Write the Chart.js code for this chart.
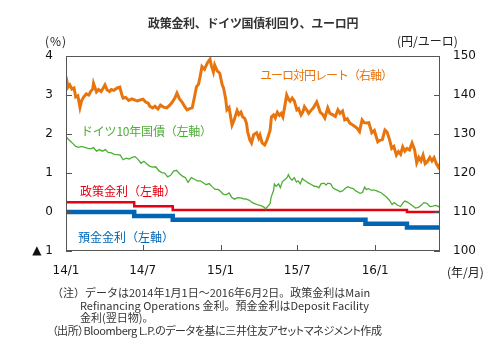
<!DOCTYPE html>
<html lang="ja">
<head>
<meta charset="utf-8">
<title>政策金利、ドイツ国債利回り、ユーロ円</title>
<script src="https://cdn.jsdelivr.net/npm/chart.js@4/dist/chart.umd.min.js"></script>
<style>
  html, body { margin: 0; padding: 0; background: #fff; }
  #wrap { position: relative; width: 504px; height: 343px; overflow: hidden; }
  canvas { position: absolute; left: 0; top: 0; }
  .note { position: absolute; font-family: "Noto Sans CJK JP", sans-serif; font-size: 11px; color: #333;
          white-space: nowrap; line-height: 13px; }
  .note.tight { font-feature-settings: "palt" 1; letter-spacing: -0.4px; }
</style>
</head>
<body>
<div id="wrap">
  <canvas id="c" width="504" height="343"></canvas>
  <div class="note" style="left:52px; top:286px;">（注）データは2014年1月1日～2016年6月2日。政策金利はMain</div>
  <div class="note" style="left:80px; top:299px;">Refinancing Operations 金利。預金金利はDeposit Facility</div>
  <div class="note" style="left:80px; top:311px;">金利(翌日物)。</div>
  <div class="note tight" style="left:52px; top:324px;">（出所）Bloomberg L.P.のデータを基に三井住友アセットマネジメント作成</div>
</div>
<script>
// ユーロ対円レート（右軸, 円/ユーロ）
const euroDates = [
  "2014-01-01","2014-01-06","2014-01-10","2014-01-15","2014-01-20","2014-01-24","2014-01-29","2014-02-03","2014-02-07","2014-02-12",
  "2014-02-18","2014-02-24","2014-02-28","2014-03-05","2014-03-07","2014-03-14","2014-03-19","2014-03-25","2014-03-31","2014-04-03",
  "2014-04-08","2014-04-14","2014-04-18","2014-04-24","2014-05-02","2014-05-08","2014-05-13","2014-05-16","2014-05-22","2014-05-29",
  "2014-06-05","2014-06-10","2014-06-18","2014-06-25","2014-07-02","2014-07-08","2014-07-14","2014-07-18","2014-07-25","2014-07-30",
  "2014-08-06","2014-08-12","2014-08-19","2014-08-27","2014-09-03","2014-09-09","2014-09-15","2014-09-20","2014-09-26","2014-10-02",
  "2014-10-08","2014-10-14","2014-10-20","2014-10-26","2014-10-31","2014-11-05","2014-11-10","2014-11-14","2014-11-18","2014-11-24",
  "2014-12-01","2014-12-07","2014-12-10","2014-12-15","2014-12-18","2014-12-24","2014-12-30","2015-01-05","2015-01-08","2015-01-13",
  "2015-01-16","2015-01-21","2015-01-28","2015-02-02","2015-02-09","2015-02-13","2015-02-18","2015-02-22","2015-02-27","2015-03-03",
  "2015-03-06","2015-03-11","2015-03-15","2015-03-20","2015-03-27","2015-04-01","2015-04-04","2015-04-09","2015-04-15","2015-04-20",
  "2015-04-24","2015-04-28","2015-05-01","2015-05-06","2015-05-10","2015-05-15","2015-05-20","2015-05-24","2015-05-28","2015-06-02",
  "2015-06-06","2015-06-10","2015-06-14","2015-06-19","2015-06-24","2015-06-30","2015-07-04","2015-07-10","2015-07-14","2015-07-18",
  "2015-07-23","2015-07-28","2015-08-02","2015-08-08","2015-08-16","2015-08-20","2015-08-24","2015-08-30","2015-09-04","2015-09-11",
  "2015-09-16","2015-09-23","2015-09-29","2015-10-05","2015-10-10","2015-10-16","2015-10-21","2015-10-27","2015-11-02","2015-11-08",
  "2015-11-13","2015-11-19","2015-11-25","2015-12-01","2015-12-06","2015-12-12","2015-12-17","2015-12-24","2015-12-30","2016-01-07",
  "2016-01-12","2016-01-18","2016-01-24","2016-01-29","2016-02-04","2016-02-09","2016-02-14","2016-02-20","2016-02-25","2016-03-01",
  "2016-03-06","2016-03-11","2016-03-16","2016-03-22","2016-03-28","2016-04-03","2016-04-08","2016-04-13","2016-04-18","2016-04-23",
  "2016-04-28","2016-05-03","2016-05-09","2016-05-14","2016-05-19","2016-05-24","2016-05-29","2016-06-02"
];
const euroYen = [
  144.7,142.0,142.6,141.5,141.8,139.5,139.8,136.8,138.6,139.5,
  140.3,140.0,140.9,141.5,143.0,140.8,141.4,140.9,142.0,142.6,
  141.3,140.9,141.4,141.2,141.8,142.0,140.0,139.2,139.4,138.6,
  139.0,138.8,138.5,138.7,138.9,138.2,137.9,137.1,136.7,137.1,
  136.4,137.4,136.9,136.7,137.4,138.2,139.2,140.5,139.0,138.2,
  137.1,136.2,136.5,136.7,139.3,142.1,142.8,144.9,147.3,146.6,
  148.3,149.2,147.6,145.9,147.7,146.2,145.6,142.5,141.8,139.0,
  136.2,136.8,132.3,133.6,136.0,135.0,135.6,134.4,134.0,132.8,
  130.5,128.5,127.7,129.8,130.3,128.9,129.7,127.7,127.2,128.3,
  129.6,131.0,134.4,134.9,134.1,135.6,134.8,135.3,134.4,137.4,
  140.0,139.0,138.4,139.2,138.5,136.2,136.5,134.9,135.6,137.0,
  136.2,135.3,136.0,136.7,138.2,137.0,135.6,135.0,134.1,136.7,
  135.3,134.9,134.5,136.2,135.3,135.9,133.6,133.9,132.8,132.4,
  132.0,131.5,130.6,133.6,132.9,132.8,132.9,130.3,130.9,128.0,
  128.4,128.6,131.0,130.5,128.5,126.3,126.8,124.6,125.5,124.8,
  126.7,125.6,126.3,125.9,127.7,126.0,122.6,124.0,123.1,124.6,
  122.4,122.9,124.0,123.1,123.9,122.5,121.5,122.3
];

// ドイツ10年国債利回り（左軸, %）
const bundDates = [
  "2014-01-01","2014-01-07","2014-01-13","2014-01-17","2014-01-24","2014-01-31","2014-02-07","2014-02-14","2014-02-21","2014-02-28",
  "2014-03-07","2014-03-14","2014-03-21","2014-03-28","2014-04-04","2014-04-11","2014-04-17","2014-04-25","2014-05-02","2014-05-09",
  "2014-05-16","2014-05-23","2014-05-30","2014-06-06","2014-06-13","2014-06-20","2014-06-27","2014-07-04","2014-07-11","2014-07-18",
  "2014-07-25","2014-08-01","2014-08-08","2014-08-15","2014-08-22","2014-08-29","2014-09-05","2014-09-12","2014-09-19","2014-09-26",
  "2014-10-03","2014-10-10","2014-10-16","2014-10-24","2014-10-31","2014-11-07","2014-11-14","2014-11-21","2014-11-28","2014-12-05",
  "2014-12-12","2014-12-19","2014-12-26","2014-12-31","2015-01-07","2015-01-14","2015-01-21","2015-01-27","2015-02-03","2015-02-10",
  "2015-02-17","2015-02-24","2015-03-03","2015-03-10","2015-03-17","2015-03-24","2015-03-31","2015-04-07","2015-04-14","2015-04-17",
  "2015-04-22","2015-04-28","2015-04-30","2015-05-06","2015-05-08","2015-05-12","2015-05-18","2015-05-22","2015-05-27","2015-06-03",
  "2015-06-08","2015-06-10","2015-06-15","2015-06-19","2015-06-24","2015-06-29","2015-07-03","2015-07-08","2015-07-13","2015-07-17",
  "2015-07-22","2015-07-28","2015-08-04","2015-08-10","2015-08-17","2015-08-21","2015-08-26","2015-09-02","2015-09-07","2015-09-11",
  "2015-09-18","2015-09-23","2015-09-29","2015-10-06","2015-10-09","2015-10-16","2015-10-22","2015-10-28","2015-11-04","2015-11-10",
  "2015-11-16","2015-11-20","2015-11-26","2015-12-02","2015-12-07","2015-12-11","2015-12-17","2015-12-22","2015-12-30","2016-01-05",
  "2016-01-08","2016-01-14","2016-01-20","2016-01-27","2016-02-02","2016-02-05","2016-02-10","2016-02-15","2016-02-22","2016-03-01",
  "2016-03-07","2016-03-11","2016-03-16","2016-03-22","2016-03-29","2016-04-05","2016-04-12","2016-04-19","2016-04-25","2016-05-02",
  "2016-05-09","2016-05-16","2016-05-23","2016-05-30","2016-06-02"
];
const bundYield = [
  1.93,1.86,1.80,1.76,1.68,1.66,1.68,1.66,1.63,1.62,
  1.65,1.56,1.60,1.56,1.60,1.52,1.52,1.48,1.47,1.46,
  1.34,1.38,1.36,1.40,1.42,1.35,1.25,1.30,1.23,1.17,
  1.15,1.16,1.06,1.01,1.00,0.90,0.94,1.05,1.07,0.98,
  0.92,0.88,0.76,0.88,0.84,0.80,0.80,0.75,0.70,0.73,
  0.65,0.58,0.58,0.54,0.46,0.44,0.49,0.38,0.33,0.37,
  0.36,0.34,0.33,0.30,0.24,0.21,0.18,0.16,0.12,0.08,
  0.14,0.22,0.37,0.55,0.72,0.66,0.72,0.62,0.78,0.84,
  0.90,0.96,0.85,0.82,0.88,0.77,0.80,0.72,0.86,0.82,
  0.78,0.74,0.70,0.66,0.65,0.62,0.72,0.74,0.69,0.74,
  0.72,0.62,0.58,0.55,0.52,0.54,0.60,0.65,0.62,0.60,
  0.54,0.52,0.48,0.50,0.64,0.58,0.60,0.56,0.56,0.54,
  0.52,0.50,0.45,0.39,0.32,0.28,0.19,0.24,0.18,0.14,
  0.24,0.28,0.26,0.22,0.16,0.10,0.12,0.18,0.24,0.22,
  0.14,0.15,0.17,0.14,0.10
];

// 政策金利（MRO, 左軸）: 変更日と新しい水準
const mroDates = ["2014-01-01","2014-06-11","2014-09-10","2016-03-16","2016-06-02"];
const mroRate  = [0.25, 0.15, 0.05, 0.00, 0.00];

// 預金金利（Deposit Facility, 左軸）
const depoDates = ["2014-01-01","2014-06-11","2014-09-10","2015-12-09","2016-03-16","2016-06-02"];
const depoRate  = [0.00, -0.10, -0.20, -0.30, -0.40, -0.40];

// 横軸の目盛り
const xTickDates  = ["2014-01-01","2014-07-01","2015-01-01","2015-07-01","2016-01-01"];
const xTickLabels = ["14/1","14/7","15/1","15/7","16/1"];
const xStart = "2014-01-01";
const xEnd   = "2016-06-02";

// 縦軸の目盛り
const leftTicks  = [-1, 0, 1, 2, 3, 4];
const rightTicks = [100, 110, 120, 130, 140, 150];

// 日付を 2014/1/1 からの経過日数に変換
function dayIndex(s) {
  const [y, m, d] = s.split("-").map(Number);
  return (Date.UTC(y, m - 1, d) - Date.UTC(2014, 0, 1)) / 86400000;
}
function toPoints(dates, values) {
  return dates.map((d, i) => ({ x: dayIndex(d), y: values[i] }));
}

const COL_EURO = "#E8740E";
const COL_BUND = "#4DAE35";
const COL_MRO  = "#E60012";
const COL_DEPO = "#0066B3";
const FRAME    = "#555555";
const JP = '"Noto Sans CJK JP", sans-serif';
const NUM = '"DejaVu Sans", sans-serif';

function label(ctx, text, x, y, color, spacing) {
  ctx.fillStyle = color;
  ctx.letterSpacing = spacing || "0px";
  ctx.fillText(text, x, y);
  ctx.letterSpacing = "0px";
}

const decorPlugin = {
  id: "decor",
  afterDatasetsDraw(chart) {
    const { ctx, chartArea: a, scales } = chart;
    ctx.save();
    // 枠線
    ctx.strokeStyle = FRAME;
    ctx.lineWidth = 1;
    ctx.strokeRect(Math.round(a.left) + 0.5, Math.round(a.top) + 0.5,
                   Math.round(a.right - a.left) - 1, Math.round(a.bottom - a.top) - 1);
    // 内向きの目盛り線
    ctx.beginPath();
    leftTicks.forEach(v => {
      const y = Math.round(scales.y.getPixelForValue(v)) + 0.5;
      ctx.moveTo(a.left, y); ctx.lineTo(a.left + 6, y);
    });
    rightTicks.forEach(v => {
      const y = Math.round(scales.y2.getPixelForValue(v)) + 0.5;
      ctx.moveTo(a.right, y); ctx.lineTo(a.right - 6, y);
    });
    xTickDates.forEach(d => {
      const x = Math.round(scales.x.getPixelForValue(dayIndex(d))) + 0.5;
      ctx.moveTo(x, a.bottom); ctx.lineTo(x, a.bottom - 6);
    });
    ctx.stroke();

    // 系列ラベル
    ctx.font = "12px " + JP;
    ctx.textBaseline = "middle";
    ctx.textAlign = "left";
    label(ctx, "ユーロ対円レート（右軸）", 260, 75, COL_EURO, "-1px");
    label(ctx, "ドイツ10年国債（左軸）", 81, 131, COL_BUND, "-0.2px");
    label(ctx, "政策金利（左軸）", 80, 191, COL_MRO);
    label(ctx, "預金金利（左軸）", 78, 237, COL_DEPO);
    ctx.restore();
  },
  afterDraw(chart) {
    const { ctx } = chart;
    ctx.save();
    ctx.textBaseline = "middle";
    ctx.textAlign = "left";
    ctx.font = "bold 12px " + JP;
    label(ctx, "政策金利、ドイツ国債利回り、ユーロ円", 148, 23, "#333", "-0.3px");
    ctx.font = "12px " + JP;
    label(ctx, "(%)", 45, 41, "#222", "1px");
    label(ctx, "(円/ユーロ)", 397, 41, "#222");
    label(ctx, "(年/月)", 447, 272, "#222");
    ctx.restore();
  }
};

new Chart(document.getElementById("c"), {
  type: "line",
  data: {
    datasets: [
      { label: "ユーロ対円レート", data: toPoints(euroDates, euroYen), yAxisID: "y2",
        borderColor: COL_EURO, borderWidth: 3, pointRadius: 0, tension: 0 },
      { label: "ドイツ10年国債", data: toPoints(bundDates, bundYield), yAxisID: "y",
        borderColor: COL_BUND, borderWidth: 1.3, pointRadius: 0, tension: 0 },
      { label: "政策金利", data: toPoints(mroDates, mroRate), yAxisID: "y",
        borderColor: COL_MRO, borderWidth: 2.5, pointRadius: 0, stepped: "before" },
      { label: "預金金利", data: toPoints(depoDates, depoRate), yAxisID: "y",
        borderColor: COL_DEPO, borderWidth: 4.5, pointRadius: 0, stepped: "before" }
    ]
  },
  options: {
    responsive: false,
    animation: false,
    devicePixelRatio: 1,
    layout: { padding: { top: 56, left: 0, right: 0, bottom: 0 } },
    plugins: { legend: { display: false }, tooltip: { enabled: false }, title: { display: false } },
    scales: {
      x: {
        type: "linear",
        min: dayIndex(xStart), max: dayIndex(xEnd),
        grid: { display: false, drawTicks: false },
        border: { display: false },
        afterBuildTicks: s => { s.ticks = xTickDates.map(d => ({ value: dayIndex(d) })); },
        afterFit: s => { s.height = 92; },
        ticks: {
          autoSkip: false, maxRotation: 0, padding: 13, color: "#111",
          font: { family: NUM, size: 12 },
          callback: (v, i) => xTickLabels[i]
        }
      },
      y: {
        position: "left", min: -1, max: 4,
        grid: { display: false, drawTicks: false },
        border: { display: false },
        afterBuildTicks: s => { s.ticks = leftTicks.map(v => ({ value: v })); },
        afterFit: s => { s.width = 66; },
        ticks: {
          padding: 13, color: "#111", font: { family: NUM, size: 12 },
          callback: v => v < 0 ? "▲ " + Math.abs(v) : String(v)
        }
      },
      y2: {
        position: "right", min: 100, max: 150,
        grid: { display: false, drawTicks: false },
        border: { display: false },
        afterBuildTicks: s => { s.ticks = rightTicks.map(v => ({ value: v })); },
        afterFit: s => { s.width = 64; },
        ticks: { padding: 13, color: "#111", font: { family: NUM, size: 12 } }
      }
    }
  },
  plugins: [decorPlugin]
});
</script>
</body>
</html>
